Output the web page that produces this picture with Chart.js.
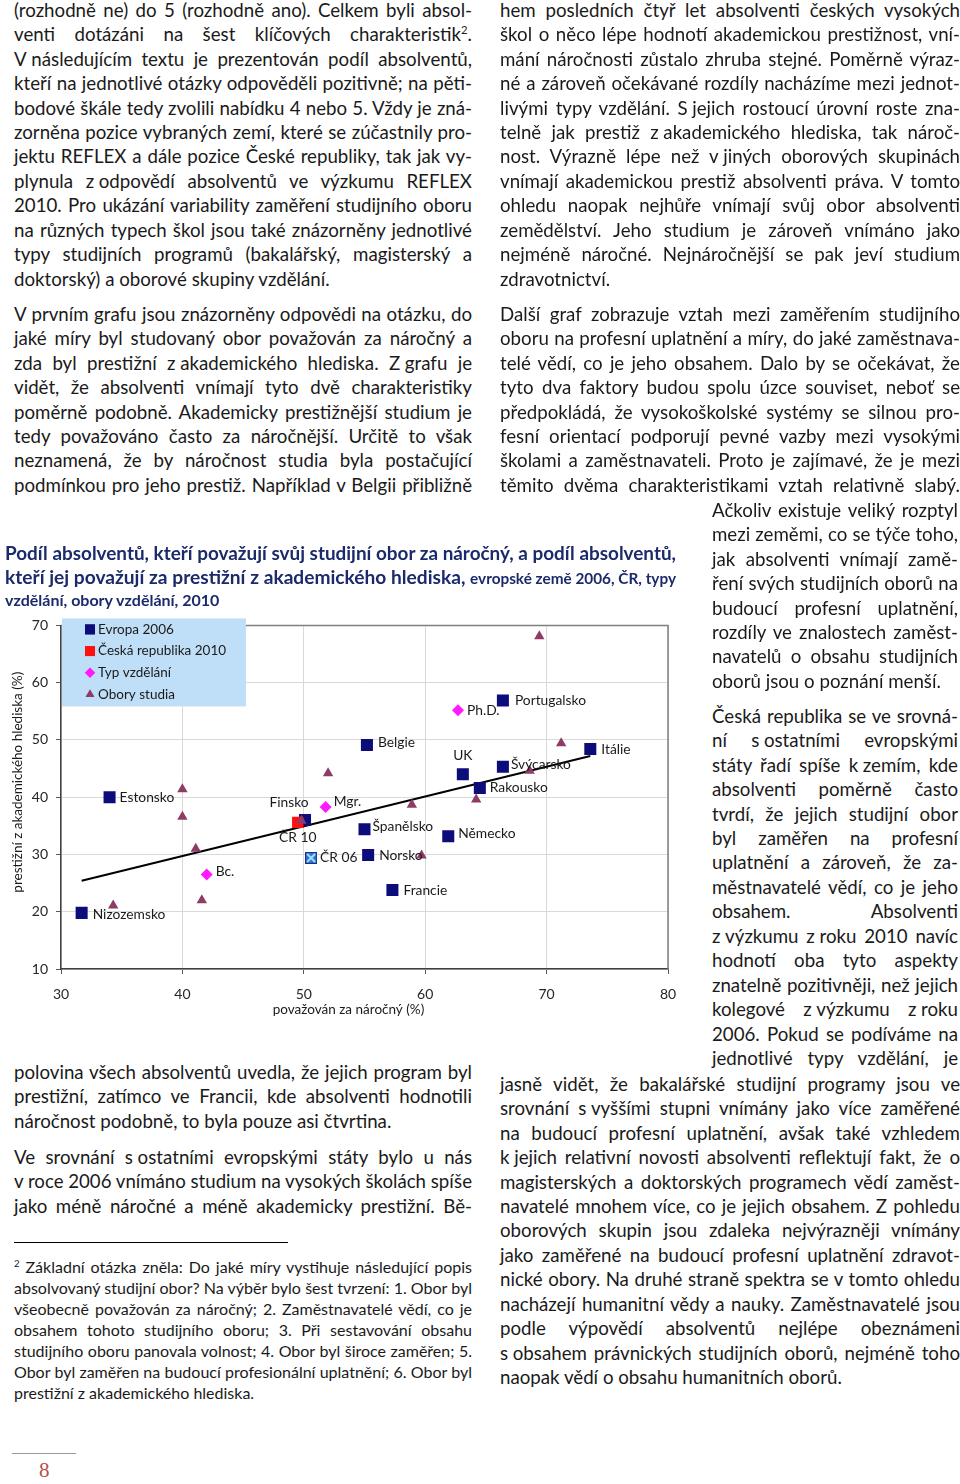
<!DOCTYPE html>
<html>
<head>
<meta charset="utf-8">
<script src="https://cdn.jsdelivr.net/npm/chart.js@4.4.1/dist/chart.umd.min.js"></script>
<style>
  body { margin: 0; width: 960px; height: 1484px; position: relative; background: #fff; overflow: hidden;
         font-family: Lato, "Open Sans", sans-serif; color: #1a1a1a; }
  .ln { position: absolute; white-space: nowrap; text-align: justify; text-align-last: justify; }
  .ln.l { text-align-last: left; }
  .ttl { color: #1b2a6b; font-weight: bold; }
  sup { font-size: 0.6em; line-height: 0; vertical-align: super; }
  #chartBox { position: absolute; left: 0; top: 609px; width: 700px; height: 413px; }
</style>
</head>
<body>
<div id="chartBox"><canvas id="chart" width="700" height="413"></canvas></div>
<div style="position:absolute;left:14px;top:1242px;width:274px;height:1px;background:#000"></div>
<div style="position:absolute;left:12px;top:1453px;width:64px;height:1px;background:#9a9a9a"></div>
<div style="position:absolute;left:39px;top:1458px;font-family:'Liberation Serif',serif;font-size:21px;color:#b5504c">8</div>

<script>
// chart data
const xTicks = [30, 40, 50, 60, 70, 80];
const yTicks = [10, 20, 30, 40, 50, 60, 70];

const evropaNames = ['Estonsko', 'Nizozemsko', 'Finsko', 'Belgie', 'Portugalsko', 'UK', 'Švýcarsko',
                     'Rakousko', 'Itálie', 'Španělsko', 'Německo', 'Norsko', 'Francie'];
const evropaX = [34.0, 31.7, 50.1, 55.2, 66.4, 63.1, 66.4, 64.5, 73.6, 55.0, 61.9, 55.3, 57.3];
const evropaY = [40.0, 19.8, 36.0, 49.1, 56.9, 44.0, 45.3, 41.6, 48.4, 34.4, 33.2, 29.9, 23.8];

const cr06Names = ['ČR 06'];
const cr06X = [50.6];
const cr06Y = [29.4];

const cr10Names = ['ČR 10'];
const cr10X = [49.5];
const cr10Y = [35.6];

const typNames = ['Bc.', 'Mgr.', 'Ph.D.'];
const typX = [42.0, 51.8, 62.7];
const typY = [26.5, 38.3, 55.2];

const oboryX = [40.0, 40.0, 52.0, 49.8, 41.1, 41.6, 34.3, 69.4, 58.9, 64.2, 71.2, 68.6, 59.7];
const oboryY = [41.4, 36.6, 44.2, 35.9, 31.0, 22.0, 21.1, 68.1, 38.7, 39.6, 49.4, 44.6, 29.8];

const trendX = [31.7, 73.6];
const trendY = [25.4, 47.2];

const seriesLabels = ['Evropa 2006', 'Česká republika 2010', 'Typ vzdělání', 'Obory studia'];
const xTitle = 'považován za náročný (%)';
const yTitle = 'prestižní z akademického hlediska (%)';

// label placement next to points: [dx, dy, align]
const labelOffsets = {
  'Estonsko': [10, 0, 'left'], 'Nizozemsko': [11, 2, 'left'], 'Finsko': [-16, -18, 'center'],
  'Belgie': [11, -3, 'left'], 'Portugalsko': [12, 0, 'left'], 'UK': [0, -19, 'center'],
  'Švýcarsko': [8, -2, 'left'], 'Rakousko': [10, 0, 'left'], 'Itálie': [11, 0, 'left'],
  'Španělsko': [8, -3, 'left'], 'Německo': [10, -3, 'left'], 'Norsko': [11, 1, 'left'],
  'Francie': [11, 1, 'left'], 'ČR 06': [9, 0, 'left'], 'ČR 10': [0, 15, 'center'],
  'Mgr.': [8, -5, 'left'], 'Ph.D.': [9, 0, 'left'], 'Bc.': [9, -3, 'left']
};

const toPoints = (xs, ys) => xs.map((x, i) => ({ x: x, y: ys[i] }));

const NAVY = '#0c0c7a';
const RED = '#ff1010';
const MAGENTA = '#ff19ff';
const TRI = '#8e3b66';

// special marker for the Czech 2006 point
const cr06Marker = document.createElement('canvas');
cr06Marker.width = 12; cr06Marker.height = 12;
(function () {
  const c = cr06Marker.getContext('2d');
  c.fillStyle = '#2f6fd0';
  c.fillRect(0, 0, 12, 12);
  c.strokeStyle = '#9fe2ff';
  c.lineWidth = 2;
  c.beginPath();
  c.moveTo(2, 2); c.lineTo(10, 10);
  c.moveTo(10, 2); c.lineTo(2, 10);
  c.stroke();
  c.strokeStyle = '#17347a';
  c.lineWidth = 1;
  c.strokeRect(0.5, 0.5, 11, 11);
})();

const pointLabels = {
  id: 'pointLabels',
  afterDatasetsDraw(chart) {
    const ctx = chart.ctx;
    ctx.save();
    ctx.font = '13.8px Lato, sans-serif';
    ctx.fillStyle = '#1a1a1a';
    ctx.textBaseline = 'middle';
    chart.data.datasets.forEach((ds, di) => {
      if (!ds.names) return;
      const meta = chart.getDatasetMeta(di);
      ds.names.forEach((name, i) => {
        const el = meta.data[i];
        const off = labelOffsets[name] || [10, 0, 'left'];
        ctx.textAlign = off[2];
        ctx.fillText(name, el.x + off[0], el.y + off[1]);
      });
    });
    ctx.restore();
  }
};

const frameAndLegend = {
  id: 'frameAndLegend',
  afterDraw(chart) {
    const ctx = chart.ctx;
    const a = chart.chartArea;
    ctx.save();
    // top and right frame
    ctx.strokeStyle = '#7f7f7f';
    ctx.lineWidth = 1.5;
    ctx.beginPath();
    ctx.moveTo(a.left, a.top);
    ctx.lineTo(a.right, a.top);
    ctx.lineTo(a.right, a.bottom);
    ctx.stroke();

    // axis titles
    ctx.fillStyle = '#1a1a1a';
    ctx.font = '13.5px Lato, sans-serif';
    ctx.textAlign = 'center';
    ctx.textBaseline = 'middle';
    ctx.fillText(xTitle, (a.left + a.right) / 2 - 16, a.bottom + 41);
    ctx.save();
    ctx.translate(18, (a.top + a.bottom) / 2 - 15);
    ctx.rotate(-Math.PI / 2);
    ctx.fillText(yTitle, 0, 0);
    ctx.restore();

    // legend box
    const lx = a.left + 1, ly = a.top - 7;
    ctx.fillStyle = '#bfdff8';
    ctx.fillRect(lx, ly, 184, 88);
    ctx.textAlign = 'left';
    const styles = [
      { style: 'rect', color: NAVY, r: 7 },
      { style: 'rect', color: RED, r: 7 },
      { style: 'rectRot', color: MAGENTA, r: 5 },
      { style: 'triangle', color: TRI, r: 5 }
    ];
    seriesLabels.forEach((lbl, i) => {
      const y = ly + 11 + i * 21.7;
      ctx.fillStyle = styles[i].color;
      Chart.helpers.drawPoint(ctx, { pointStyle: styles[i].style, radius: styles[i].r, borderWidth: 0 }, lx + 28, y);
      ctx.fill();
      ctx.fillStyle = '#1a1a1a';
      ctx.fillText(lbl, lx + 36, y);
    });
    ctx.restore();
  }
};

new Chart(document.getElementById('chart'), {
  type: 'scatter',
  data: {
    datasets: [
      {
        label: 'trend', type: 'line', data: toPoints(trendX, trendY),
        borderColor: '#000', borderWidth: 2, pointRadius: 0, fill: false, order: 5
      },
      {
        label: seriesLabels[0], names: evropaNames, data: toPoints(evropaX, evropaY),
        pointStyle: 'rect', pointRadius: 8.5, backgroundColor: NAVY, borderColor: NAVY, borderWidth: 0, order: 4
      },
      {
        label: 'ČR 06', names: cr06Names, data: toPoints(cr06X, cr06Y),
        pointStyle: cr06Marker, order: 4
      },
      {
        label: seriesLabels[1], names: cr10Names, data: toPoints(cr10X, cr10Y),
        pointStyle: 'rect', pointRadius: 8, backgroundColor: RED, borderColor: RED, borderWidth: 0, order: 3
      },
      {
        label: seriesLabels[2], names: typNames, data: toPoints(typX, typY),
        pointStyle: 'rectRot', pointRadius: 6, backgroundColor: MAGENTA, borderColor: MAGENTA, borderWidth: 0, order: 2
      },
      {
        label: seriesLabels[3], data: toPoints(oboryX, oboryY),
        pointStyle: 'triangle', pointRadius: 6, backgroundColor: TRI, borderColor: TRI, borderWidth: 0, order: 1
      }
    ]
  },
  options: {
    responsive: false,
    animation: false,
    layout: { padding: { left: 10, right: 32, top: 10, bottom: 0 } },
    plugins: { legend: { display: false }, tooltip: { enabled: false } },
    scales: {
      x: {
        type: 'linear', min: xTicks[0], max: xTicks[xTicks.length - 1],
        afterBuildTicks: s => { s.ticks = xTicks.map(v => ({ value: v })); },
        afterFit: s => { s.height = 53; },
        ticks: { font: { family: 'Lato', size: 14 }, color: '#262626', padding: 12 },
        grid: { color: '#d9d9d9', tickLength: 5, tickColor: '#595959' },
        border: { color: '#404040', width: 1.5 }
      },
      y: {
        type: 'linear', min: yTicks[0], max: yTicks[yTicks.length - 1],
        afterBuildTicks: s => { s.ticks = yTicks.map(v => ({ value: v })); },
        afterFit: s => { s.width = 51; },
        ticks: { font: { family: 'Lato', size: 14 }, color: '#262626', padding: 8 },
        grid: { color: '#d9d9d9', tickLength: 5, tickColor: '#595959' },
        border: { color: '#404040', width: 1.5 }
      }
    }
  },
  plugins: [pointLabels, frameAndLegend]
});

// page text, one entry per printed line; a trailing ¶ marks the last line of a paragraph
function block(x, y, w, lh, fs, lines, cls) {
  lines.forEach((t, i) => {
    const last = t.endsWith('¶');
    if (last) t = t.slice(0, -1);
    const d = document.createElement('div');
    d.className = 'ln' + (last ? ' l' : '') + (cls ? ' ' + cls : '');
    d.style.left = x + 'px';
    d.style.top = (y + i * lh - lh / 2) + 'px';
    d.style.height = lh + 'px';
    d.style.lineHeight = lh + 'px';
    d.style.fontSize = fs + 'px';
    d.innerHTML = t.replace(/\u2009/g, '&#8239;');
    document.body.appendChild(d);
    const natural = d.offsetWidth;
    if (natural > w) d.style.fontSize = (fs * w / natural) + 'px';
    d.style.width = w + 'px';
  });
}

const LH = 24.45, FS = 18.7;

block(14, 10, 458, LH, FS, [
  '(rozhodně ne) do 5 (rozhodně ano). Celkem byli absol-',
  'venti dotázáni na šest klíčových charakteristik<sup>2</sup>.',
  'V\u2009následujícím textu je prezentován podíl absolventů,',
  'kteří na jednotlivé otázky odpověděli pozitivně; na pěti-',
  'bodové škále tedy zvolili nabídku 4 nebo 5. Vždy je zná-',
  'zorněna pozice vybraných zemí, které se zúčastnily pro-',
  'jektu REFLEX a dále pozice České republiky, tak jak vy-',
  'plynula z\u2009odpovědí absolventů ve výzkumu REFLEX',
  '2010. Pro ukázání variability zaměření studijního oboru',
  'na různých typech škol jsou také znázorněny jednotlivé',
  'typy studijních programů (bakalářský, magisterský a',
  'doktorský) a oborové skupiny vzdělání.¶'
]);

block(14, 314, 458, LH, FS, [
  'V prvním grafu jsou znázorněny odpovědi na otázku, do',
  'jaké míry byl studovaný obor považován za náročný a',
  'zda byl prestižní z\u2009akademického hlediska. Z\u2009grafu je',
  'vidět, že absolventi vnímají tyto dvě charakteristiky',
  'poměrně podobně. Akademicky prestižnější studium je',
  'tedy považováno často za náročnější. Určitě to však',
  'neznamená, že by náročnost studia byla postačující',
  'podmínkou pro jeho prestiž. Například v Belgii přibližně'
]);

block(14, 1072, 458, LH, FS, [
  'polovina všech absolventů uvedla, že jejich program byl',
  'prestižní, zatímco ve Francii, kde absolventi hodnotili',
  'náročnost podobně, to byla pouze asi čtvrtina.¶'
]);

block(14, 1157, 458, LH, FS, [
  'Ve srovnání s\u2009ostatními evropskými státy bylo u nás',
  'v roce 2006 vnímáno studium na vysokých školách spíše',
  'jako méně náročné a méně akademicky prestižní. Bě-'
]);

block(14, 1266, 458, 21, 16, [
  '<sup>2</sup> Základní otázka zněla: Do jaké míry vystihuje následující popis',
  'absolvovaný studijní obor? Na výběr bylo šest tvrzení: 1. Obor byl',
  'všeobecně považován za náročný; 2. Zaměstnavatelé vědí, co je',
  'obsahem tohoto studijního oboru; 3. Při sestavování obsahu',
  'studijního oboru panovala volnost; 4. Obor byl široce zaměřen; 5.',
  'Obor byl zaměřen na budoucí profesionální uplatnění; 6. Obor byl',
  'prestižní z akademického hlediska.¶'
]);

block(500, 10, 460, LH, FS, [
  'hem posledních čtyř let absolventi českých vysokých',
  'škol o něco lépe hodnotí akademickou prestižnost, vní-',
  'mání náročnosti zůstalo zhruba stejné. Poměrně výraz-',
  'né a zároveň očekávané rozdíly nacházíme mezi jednot-',
  'livými typy vzdělání. S\u2009jejich rostoucí úrovní roste zna-',
  'telně jak prestiž z\u2009akademického hlediska, tak nároč-',
  'nost. Výrazně lépe než v\u2009jiných oborových skupinách',
  'vnímají akademickou prestiž absolventi práva. V tomto',
  'ohledu naopak nejhůře vnímají svůj obor absolventi',
  'zemědělství. Jeho studium je zároveň vnímáno jako',
  'nejméně náročné. Nejnáročnější se pak jeví studium',
  'zdravotnictví.¶'
]);

block(500, 314, 460, LH, FS, [
  'Další graf zobrazuje vztah mezi zaměřením studijního',
  'oboru na profesní uplatnění a míry, do jaké zaměstnava-',
  'telé vědí, co je jeho obsahem. Dalo by se očekávat, že',
  'tyto dva faktory budou spolu úzce souviset, neboť se',
  'předpokládá, že vysokoškolské systémy se silnou pro-',
  'fesní orientací podporují pevné vazby mezi vysokými',
  'školami a zaměstnavateli. Proto je zajímavé, že je mezi',
  'těmito dvěma charakteristikami vztah relativně slabý.'
]);

block(712, 510, 246, LH, FS, [
  'Ačkoliv existuje veliký rozptyl',
  'mezi zeměmi, co se týče toho,',
  'jak absolventi vnímají zamě-',
  'ření svých studijních oborů na',
  'budoucí profesní uplatnění,',
  'rozdíly ve znalostech zaměst-',
  'navatelů o obsahu studijních',
  'oborů jsou o poznání menší.¶'
]);

block(712, 716, 246, LH, FS, [
  'Česká republika se ve srovná-',
  'ní s\u2009ostatními evropskými',
  'státy řadí spíše k\u2009zemím, kde',
  'absolventi poměrně často',
  'tvrdí, že jejich studijní obor',
  'byl zaměřen na profesní',
  'uplatnění a zároveň, že za-',
  'městnavatelé vědí, co je jeho',
  'obsahem. Absolventi',
  'z\u2009výzkumu z\u2009roku 2010 navíc',
  'hodnotí oba tyto aspekty',
  'znatelně pozitivněji, než jejich',
  'kolegové z\u2009výzkumu z\u2009roku',
  '2006. Pokud se podíváme na',
  'jednotlivé typy vzdělání, je'
]);

block(500, 1084, 460, LH, FS, [
  'jasně vidět, že bakalářské studijní programy jsou ve',
  'srovnání s\u2009vyššími stupni vnímány jako více zaměřené',
  'na budoucí profesní uplatnění, avšak také vzhledem',
  'k\u2009jejich relativní novosti absolventi reflektují fakt, že o',
  'magisterských a doktorských programech vědí zaměst-',
  'navatelé mnohem více, co je jejich obsahem. Z pohledu',
  'oborových skupin jsou zdaleka nejvýrazněji vnímány',
  'jako zaměřené na budoucí profesní uplatnění zdravot-',
  'nické obory. Na druhé straně spektra se v tomto ohledu',
  'nacházejí humanitní vědy a nauky. Zaměstnavatelé jsou',
  'podle výpovědí absolventů nejlépe obeznámeni',
  's\u2009obsahem právnických studijních oborů, nejméně toho',
  'naopak vědí o obsahu humanitních oborů.¶'
]);

// chart title
block(5, 553, 671, 24, 19.5, [
  'Podíl absolventů, kteří považují svůj studijní obor za náročný, a podíl absolventů,',
  'kteří jej považují za prestižní z\u2009akademického hlediska, <span style="font-size:0.8em">evropské země 2006, ČR, typy</span>'
], 'ttl');
block(5, 600, 300, 22, 16, ['vzdělání, obory vzdělání, 2010¶'], 'ttl');
</script>
</body>
</html>
